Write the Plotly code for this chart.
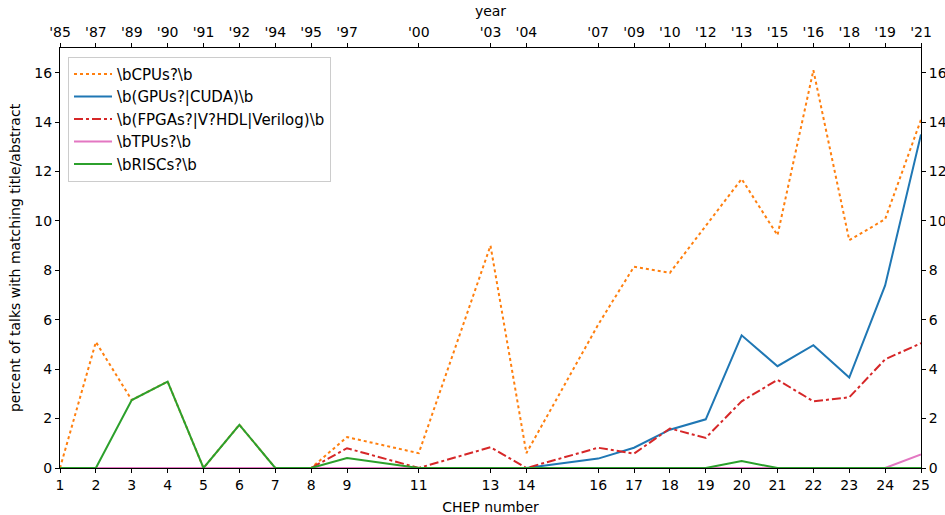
import plotly.graph_objects as go

chep = [1, 2, 3, 4, 5, 6, 7, 8, 9, 11, 13, 14, 16, 17, 18, 19, 20, 21, 22, 23, 24, 25]
years = ["'85", "'87", "'89", "'90", "'91", "'92", "'94", "'95", "'97", "'00", "'03", "'04",
         "'07", "'09", "'10", "'12", "'13", "'15", "'16", "'18", "'19", "'21"]

cpu = [0, 5.1, 2.75, 3.5, 0, 1.75, 0, 0, 1.25, 0.6, 9.0, 0.6, 5.8, 8.15, 7.9, 9.8, 11.7, 9.42, 16.1, 9.22, 10.07, 14.1]
gpu = [0, 0, 0, 0, 0, 0, 0, 0, 0, 0, 0, 0, 0.38, 0.82, 1.55, 1.97, 5.37, 4.12, 4.97, 3.66, 7.39, 13.5]
fpga = [0, 0, 0, 0, 0, 0, 0, 0, 0.8, 0, 0.84, 0, 0.82, 0.58, 1.6, 1.22, 2.7, 3.57, 2.7, 2.86, 4.4, 5.05]
tpu = [0] * 21 + [0.55]
risc = [0, 0, 2.75, 3.5, 0, 1.75, 0, 0, 0.4, 0, 0, 0, 0, 0, 0, 0, 0.28, 0, 0, 0, 0, 0]

series = [
    (r"\bCPUs?\b", cpu, "#ff7f0e", "dot"),
    (r"\b(GPUs?|CUDA)\b", gpu, "#1f77b4", "solid"),
    (r"\b(FPGAs?|V?HDL|Verilog)\b", fpga, "#d62728", "dashdot"),
    (r"\bTPUs?\b", tpu, "#e377c2", "solid"),
    (r"\bRISCs?\b", risc, "#2ca02c", "solid"),
]

fig = go.Figure()
for name, vals, col, dash in series:
    fig.add_trace(go.Scatter(x=chep, y=vals, mode="lines", name=name,
                             line=dict(color=col, width=2, dash=dash)))

# invisible trace for the twin axes
fig.add_trace(go.Scatter(x=chep, y=cpu, xaxis="x2", yaxis="y2", mode="lines",
                         line=dict(width=0), opacity=0, showlegend=False, hoverinfo="skip"))

font = dict(family="DejaVu Sans", size=14, color="black")
axcommon = dict(showline=True, linecolor="black", linewidth=1, ticks="outside", ticklen=4,
                tickcolor="black", showgrid=False, zeroline=False, tickfont=font,
                automargin=False)

fig.update_layout(
    width=945, height=515,
    margin=dict(l=60, r=24, t=48, b=47),
    plot_bgcolor="white", paper_bgcolor="white",
    font=font,
    xaxis=dict(range=[1, 25], tickvals=chep, ticktext=[str(c) for c in chep],
               title=dict(text="CHEP number", font=font, standoff=10), **axcommon),
    xaxis2=dict(range=[1, 25], tickvals=chep, ticktext=years, overlaying="x", side="top",
                title=dict(text="year", font=font, standoff=4), **axcommon),
    yaxis=dict(range=[0, 17], tickvals=list(range(0, 17, 2)),
               title=dict(text="percent of talks with matching title/abstract", font=font, standoff=10),
               **axcommon),
    yaxis2=dict(range=[0, 17], tickvals=list(range(0, 17, 2)), overlaying="y", side="right",
                **axcommon),
    legend=dict(x=0.0093, y=0.979, xanchor="left", yanchor="top", itemwidth=38,
                bgcolor="rgba(255,255,255,0.8)", bordercolor="#cccccc", borderwidth=1,
                font=dict(family="DejaVu Sans", size=15, color="black")),
    showlegend=True,
)

fig.write_html("out.html")
